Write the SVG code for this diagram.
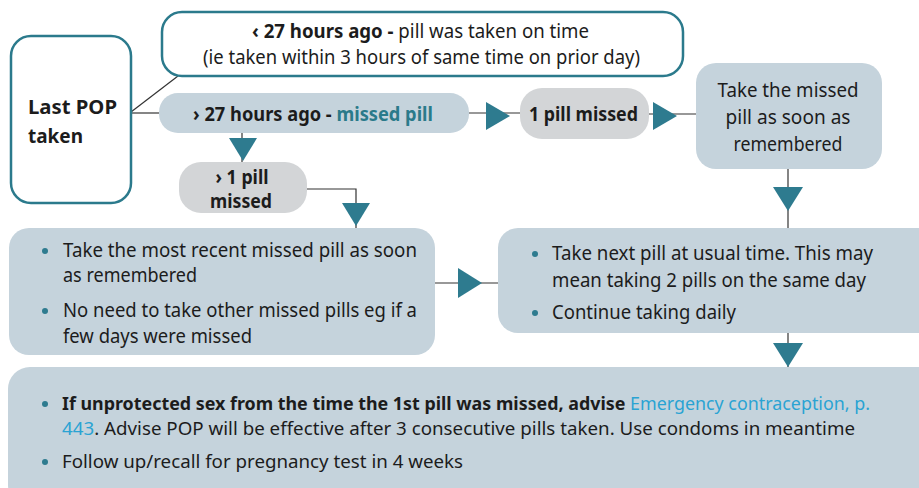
<svg xmlns="http://www.w3.org/2000/svg" width="919" height="488" viewBox="0 0 919 488">
<style>
text{font-family:"Noto Sans","Open Sans",sans-serif;fill:#1c1c1c;font-size:19px}
.b{font-weight:bold}
.c{text-anchor:middle}
.light{fill:#c5d3dc}
.grey{fill:#d3d5d7}
.outl{fill:#ffffff;stroke:#2b7a8c;stroke-width:2.5}
.ln{stroke:#333;stroke-width:1.2;fill:none}
.tri{fill:#2e7b8f}
.dot{fill:#2e7b8f}
.teal{fill:#2a7a8a}
.link{fill:#2aa3d3}
.sm{font-size:18px}
</style>
<rect width="919" height="488" fill="#ffffff"/>
<g id="connectors">
<line class="ln" x1="131" y1="112" x2="178" y2="76"/>
<line class="ln" x1="131" y1="113" x2="160" y2="113"/>
<line class="ln" x1="469" y1="113" x2="520" y2="113"/>
<polygon class="tri" points="486,102 510,116 486,130"/>
<line class="ln" x1="649" y1="114" x2="696" y2="114"/>
<polygon class="tri" points="653,102 677,116 653,130"/>
<line class="ln" x1="788" y1="169" x2="788" y2="228"/>
<polygon class="tri" points="773,187 803,187 788,211"/>
<line class="ln" x1="242" y1="133" x2="242" y2="162"/>
<polygon class="tri" points="229,138 257,138 243,161"/>
<polyline class="ln" points="307,189 356,189 356,228"/>
<polygon class="tri" points="342,203 370,203 356,226"/>
<line class="ln" x1="435" y1="283" x2="498" y2="283"/>
<polygon class="tri" points="458,268 482,283 458,298"/>
<line class="ln" x1="788" y1="333" x2="788" y2="367"/>
<polygon class="tri" points="773,343 803,343 788,367"/>
</g>
<g id="last-pop">
<rect class="outl" x="11" y="36" width="120" height="167" rx="20"/>
<text class="b" x="28" y="114" font-size="22" textLength="89" lengthAdjust="spacingAndGlyphs">Last POP</text>
<text class="b" x="28" y="143" font-size="22" textLength="55" lengthAdjust="spacingAndGlyphs">taken</text>
</g>
<g id="on-time">
<rect class="outl" x="162" y="12" width="521" height="64" rx="20"/>
<text x="252" y="38" textLength="337" lengthAdjust="spacingAndGlyphs"><tspan class="b">‹ 27 hours ago -</tspan> pill was taken on time</text>
<text x="203" y="64" textLength="437" lengthAdjust="spacingAndGlyphs">(ie taken within 3 hours of same time on prior day)</text>
</g>
<g id="missed-pill">
<rect class="light" x="159" y="93" width="310" height="40" rx="19"/>
<text class="b" x="193" y="121" textLength="240" lengthAdjust="spacingAndGlyphs">› 27 hours ago - <tspan class="teal">missed pill</tspan></text>
</g>
<g id="one-missed">
<rect class="grey" x="520" y="88" width="129" height="51" rx="22"/>
<text class="b" x="529" y="121" textLength="109" lengthAdjust="spacingAndGlyphs">1 pill missed</text>
</g>
<g id="take-missed">
<rect class="light" x="696" y="63" width="186" height="106" rx="20"/>
<text class="c" x="788" y="97" textLength="141" lengthAdjust="spacingAndGlyphs">Take the missed</text>
<text class="c" x="788" y="124" textLength="125" lengthAdjust="spacingAndGlyphs">pill as soon as</text>
<text class="c" x="788" y="151" textLength="109" lengthAdjust="spacingAndGlyphs">remembered</text>
</g>
<g id="more-missed">
<rect class="grey" x="179" y="162" width="128" height="51" rx="22"/>
<text class="b c" x="242" y="184" textLength="53" lengthAdjust="spacingAndGlyphs">› 1 pill</text>
<text class="b c" x="241" y="208" textLength="62" lengthAdjust="spacingAndGlyphs">missed</text>
</g>
<g id="recent-missed">
<rect class="light" x="9" y="228" width="426" height="127" rx="20"/>
<circle class="dot" cx="45" cy="251" r="3"/>
<text x="63" y="257" textLength="354" lengthAdjust="spacingAndGlyphs">Take the most recent missed pill as soon</text>
<text x="63" y="282" textLength="134" lengthAdjust="spacingAndGlyphs">as remembered</text>
<circle class="dot" cx="45" cy="311" r="3"/>
<text x="63" y="317" textLength="354" lengthAdjust="spacingAndGlyphs">No need to take other missed pills eg if a</text>
<text x="63" y="343" textLength="189" lengthAdjust="spacingAndGlyphs">few days were missed</text>
</g>
<g id="next-pill">
<rect class="light" x="498" y="228" width="440" height="105" rx="20"/>
<circle class="dot" cx="535" cy="254" r="3"/>
<text x="552" y="260" textLength="321" lengthAdjust="spacingAndGlyphs">Take next pill at usual time. This may</text>
<text x="552" y="287" textLength="314" lengthAdjust="spacingAndGlyphs">mean taking 2 pills on the same day</text>
<circle class="dot" cx="535" cy="313" r="3"/>
<text x="552" y="319" textLength="184" lengthAdjust="spacingAndGlyphs">Continue taking daily</text>
</g>
<g id="advice">
<rect class="light" x="8" y="367" width="940" height="140" rx="22"/>
<circle class="dot" cx="45" cy="404" r="3"/>
<text class="sm" x="62" y="410" textLength="808" lengthAdjust="spacingAndGlyphs"><tspan class="b">If unprotected sex from the time the 1st pill was missed, advise</tspan> <tspan class="link">Emergency contraception, p.</tspan></text>
<text class="sm" x="62" y="435" textLength="793" lengthAdjust="spacingAndGlyphs"><tspan class="link">443</tspan>. Advise POP will be effective after 3 consecutive pills taken. Use condoms in meantime</text>
<circle class="dot" cx="45" cy="462" r="3"/>
<text class="sm" x="62" y="468" textLength="401" lengthAdjust="spacingAndGlyphs">Follow up/recall for pregnancy test in 4 weeks</text>
</g>
</svg>
